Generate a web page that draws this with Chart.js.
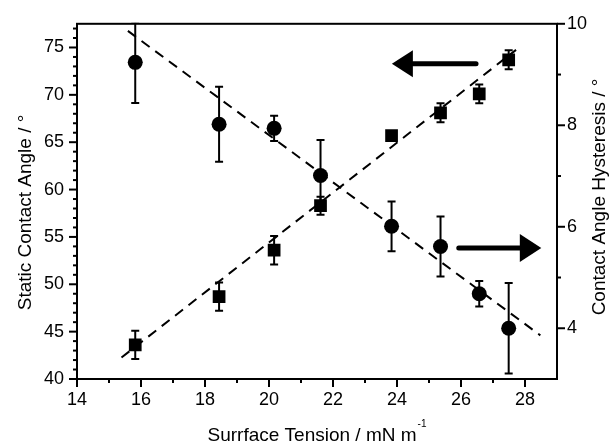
<!DOCTYPE html>
<html>
<head>
<meta charset="utf-8">
<script src="https://cdn.jsdelivr.net/npm/chart.js"></script>
<style>
  html, body { margin: 0; padding: 0; background: #fff; }
</style>
</head>
<body>
<canvas id="chart" width="610" height="444"></canvas>
<script>
// Surface tension (x) shared by both series
const surfaceTension = [15.82, 18.44, 20.16, 21.61, 23.83, 25.36, 26.57, 27.49];

// Static contact angle (left axis), squares
const staticAngle = [43.6, 48.7, 53.6, 58.3, 65.7, 68.1, 70.1, 73.7];
const staticErr = [1.5, 1.5, 1.5, 0.95, 0.3, 1.0, 1.0, 1.0];

// Contact angle hysteresis (right axis), circles
const hysteresis = [9.24, 8.02, 7.94, 7.01, 6.01, 5.61, 4.68, 4.0];
const hysteresisErr = [0.8, 0.74, 0.25, 0.7, 0.49, 0.59, 0.25, 0.89];

// Linear fits (end points)
const staticFitX = [15.39, 27.72];
const staticFitY = [42.27, 74.75];
const hystFitX = [15.59, 28.48];
const hystFitY = [9.86, 3.86];

// Tick labels
const xTicks = [14, 16, 18, 20, 22, 24, 26, 28];
const leftTicks = [40, 45, 50, 55, 60, 65, 70, 75];
const rightTicks = [4, 6, 8, 10];

// Arrows pointing at the axis each series belongs to (data units)
const arrowLeft = { tail: 26.47, tip: 23.84, y: 73.28 };
const arrowRight = { tail: 25.93, tip: 28.51, y: 5.58 };

const FONT = "'Liberation Sans', Arial, sans-serif";

function pts(xs, ys) {
  return xs.map((x, i) => ({ x: x, y: ys[i] }));
}

// Error bars, drawn under the markers
const errorBars = {
  id: "errorBars",
  beforeDatasetsDraw(chart) {
    const { ctx, chartArea: a } = chart;
    ctx.save();
    ctx.beginPath();
    ctx.rect(a.left, a.top - 1, a.right - a.left, a.bottom - a.top + 1);
    ctx.clip();
    ctx.strokeStyle = "#000";
    ctx.lineWidth = 2;
    chart.data.datasets.forEach((ds, di) => {
      if (!ds.errors) return;
      const yScale = chart.scales[ds.yAxisID];
      const xScale = chart.scales.x;
      ds.data.forEach((p, i) => {
        const px = xScale.getPixelForValue(p.x);
        const top = yScale.getPixelForValue(p.y + ds.errors[i]);
        const bot = yScale.getPixelForValue(p.y - ds.errors[i]);
        ctx.beginPath();
        ctx.moveTo(px, top);
        ctx.lineTo(px, bot);
        ctx.moveTo(px - 4, top);
        ctx.lineTo(px + 4, top);
        ctx.moveTo(px - 4, bot);
        ctx.lineTo(px + 4, bot);
        ctx.stroke();
      });
    });
    ctx.restore();
  },
};

function drawArrow(ctx, tailX, y, tipX, head, half) {
  const dir = Math.sign(tipX - tailX);
  const base = tipX - dir * head;
  ctx.lineWidth = 5;
  ctx.lineCap = "round";
  ctx.beginPath();
  ctx.moveTo(tailX, y);
  ctx.lineTo(base, y);
  ctx.stroke();
  ctx.beginPath();
  ctx.moveTo(tipX, y);
  ctx.lineTo(base, y - half);
  ctx.lineTo(base, y + half);
  ctx.closePath();
  ctx.fill();
}

// Frame, tick marks, arrows and axis titles
const frame = {
  id: "frame",
  afterDraw(chart) {
    const { ctx, chartArea: a, scales } = chart;
    ctx.save();
    ctx.strokeStyle = "#000";
    ctx.fillStyle = "#000";
    ctx.lineWidth = 2;
    ctx.strokeRect(a.left, a.top, a.right - a.left, a.bottom - a.top);

    const line = (x1, y1, x2, y2) => {
      ctx.beginPath();
      ctx.moveTo(x1, y1);
      ctx.lineTo(x2, y2);
      ctx.stroke();
    };
    for (let v = 14; v < 29; v++) {
      const px = scales.x.getPixelForValue(v);
      line(px, a.bottom, px, a.bottom + (xTicks.includes(v) ? 8 : 4));
    }
    for (let v = 40; v <= 77; v++) {
      const py = scales.y.getPixelForValue(v);
      line(a.left, py, a.left - (leftTicks.includes(v) ? 8 : 4), py);
    }
    for (let v = 4; v <= 10; v++) {
      const py = scales.y2.getPixelForValue(v);
      line(a.right, py, a.right + (rightTicks.includes(v) ? 8 : 4), py);
    }

    drawArrow(ctx,
      scales.x.getPixelForValue(arrowLeft.tail), scales.y.getPixelForValue(arrowLeft.y),
      scales.x.getPixelForValue(arrowLeft.tip), 21, 13.5);
    drawArrow(ctx,
      scales.x.getPixelForValue(arrowRight.tail), scales.y2.getPixelForValue(arrowRight.y),
      scales.x.getPixelForValue(arrowRight.tip), 21.5, 14);

    // x title with superscript
    ctx.textBaseline = "alphabetic";
    ctx.textAlign = "left";
    const main = "Surrface Tension / mN m";
    const sup = "-1";
    ctx.font = "19px " + FONT;
    const w1 = ctx.measureText(main).width;
    ctx.font = "10px " + FONT;
    const w2 = ctx.measureText(sup).width;
    const cx = (a.left + a.right) / 2;
    const sx = cx - (w1 + w2 + 1) / 2;
    ctx.font = "19px " + FONT;
    ctx.fillText(main, sx, 441);
    ctx.font = "10px " + FONT;
    ctx.fillText(sup, sx + w1 + 1, 427);

    // y titles, both reading bottom to top
    ctx.font = "19px " + FONT;
    ctx.textAlign = "center";
    ctx.save();
    ctx.translate(30.5, 212.5);
    ctx.rotate(-Math.PI / 2);
    ctx.fillText("Static Contact Angle / °", 0, 0);
    ctx.restore();
    ctx.save();
    ctx.translate(605, 197);
    ctx.rotate(-Math.PI / 2);
    ctx.fillText("Contact Angle Hysteresis / °", 0, 0);
    ctx.restore();

    ctx.restore();
  },
};

const tickFont = { family: FONT, size: 18 };

new Chart(document.getElementById("chart"), {
  type: "scatter",
  data: {
    datasets: [
      {
        label: "Static Contact Angle",
        data: pts(surfaceTension, staticAngle),
        yAxisID: "y",
        pointStyle: "rect",
        pointRadius: 9,
        backgroundColor: "#000",
        borderWidth: 0,
        errors: staticErr,
      },
      {
        label: "Contact Angle Hysteresis",
        data: pts(surfaceTension, hysteresis),
        yAxisID: "y2",
        pointStyle: "circle",
        pointRadius: 7.5,
        backgroundColor: "#000",
        borderWidth: 0,
        errors: hysteresisErr,
      },
      {
        type: "line",
        label: "Static fit",
        data: pts(staticFitX, staticFitY),
        yAxisID: "y",
        borderColor: "#000",
        borderWidth: 2,
        borderDash: [10, 7],
        pointRadius: 0,
        fill: false,
      },
      {
        type: "line",
        label: "Hysteresis fit",
        data: pts(hystFitX, hystFitY),
        yAxisID: "y2",
        borderColor: "#000",
        borderWidth: 2,
        borderDash: [10, 7],
        pointRadius: 0,
        fill: false,
      },
    ],
  },
  options: {
    responsive: false,
    animation: false,
    layout: { padding: { top: 21, left: 0, right: 0, bottom: 0 } },
    plugins: {
      legend: { display: false },
      tooltip: { enabled: false },
    },
    scales: {
      x: {
        type: "linear",
        position: "bottom",
        min: 14,
        max: 29,
        grid: { display: false, drawTicks: false },
        border: { display: false },
        ticks: { font: tickFont, color: "#000", padding: 10, maxRotation: 0 },
        afterBuildTicks: (axis) => { axis.ticks = xTicks.map((v) => ({ value: v })); },
        afterFit: (s) => { s.height = 65; },
      },
      y: {
        type: "linear",
        position: "left",
        min: 40,
        max: 77.5,
        grid: { display: false, drawTicks: false },
        border: { display: false },
        ticks: { font: tickFont, color: "#000", padding: 13 },
        afterBuildTicks: (axis) => { axis.ticks = leftTicks.map((v) => ({ value: v })); },
        afterFit: (s) => { s.width = 77; },
      },
      y2: {
        type: "linear",
        position: "right",
        min: 3,
        max: 10,
        grid: { display: false, drawTicks: false },
        border: { display: false },
        ticks: { font: tickFont, color: "#000", padding: 10 },
        afterBuildTicks: (axis) => { axis.ticks = rightTicks.map((v) => ({ value: v })); },
        afterFit: (s) => { s.width = 53; },
      },
    },
  },
  plugins: [errorBars, frame],
});
</script>
</body>
</html>
